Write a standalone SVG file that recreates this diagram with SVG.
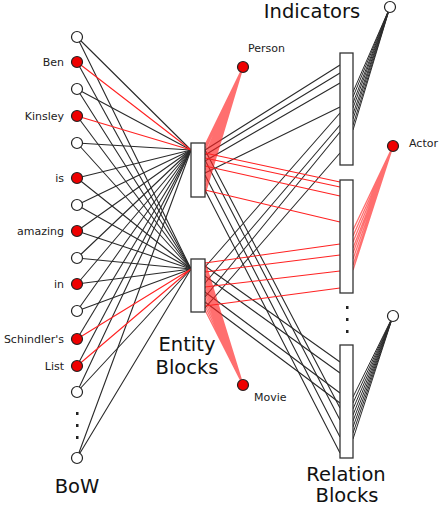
<svg xmlns="http://www.w3.org/2000/svg" width="443" height="507" viewBox="0 0 443 507">
<style>
.k{stroke:#2a2a2a;stroke-width:1.1;fill:none}
.r{stroke:#f22;stroke-width:1.1;fill:none}
.fr{stroke:#f22;stroke-width:1.3;stroke-opacity:0.65;fill:none}
.fk{stroke:#2a2a2a;stroke-width:1;fill:none}
.nw{fill:#fff;stroke:#222;stroke-width:1.2}
.nr{fill:#e00;stroke:#222;stroke-width:1.2}
.blk{fill:#fff;stroke:#333;stroke-width:1.3}
.s{font-family:"DejaVu Sans",sans-serif;font-size:11px;fill:#222}
.b{font-family:"DejaVu Sans",sans-serif;font-size:19.5px;fill:#111}
.dot{fill:#222}
</style>
<rect width="443" height="507" fill="#fff"/>
<g id="connectors">
<g class="k">
<path d="M77 37L191 150M77 37L191 269"/>
<path d="M77 62L191 269"/>
<path d="M77 89L191 150M77 89L191 269"/>
<path d="M77 116L191 269"/>
<path d="M77 143L191 150M77 143L191 269"/>
<path d="M77 178L191 150M77 178L191 269"/>
<path d="M77 205L191 150M77 205L191 269"/>
<path d="M77 231L191 150M77 231L191 269"/>
<path d="M77 258L191 150M77 258L191 269"/>
<path d="M77 284L191 150M77 284L191 269"/>
<path d="M77 311L191 150M77 311L191 269"/>
<path d="M77 339L191 150"/>
<path d="M77 366L191 150"/>
<path d="M77 392L191 150M77 392L191 269"/>
<path d="M77 458L191 150M77 458L191 269"/>
</g>
<g class="r">
<path d="M77 62L191 150M77 116L191 150M77 339L191 269M77 366L191 269"/>
</g>
<g class="k">
<path d="M205 150L340 65M205 155L340 73M205 161L340 83M205 173L340 107"/>
<path d="M205 267L340 113M205 283L340 125M205 297L340 132M205 308L340 153"/>
<path d="M205 266L340 362M205 276L340 373M205 292L340 393M205 302L340 403"/>
<path d="M205 150L340 408M205 160L340 420M205 175L340 437M205 190L340 453"/>
</g>
<g class="r">
<path d="M205 153L340 182M205 158L340 187M205 166L340 196M205 190L340 222"/>
<path d="M205 263L340 244M205 272L340 255M205 287L340 271M205 306L340 288"/>
</g>
<g class="fr">
<path d="M205 145L243 67M205 148L243 67M205 151L243 67M205 155L243 67M205 158L243 67M205 162L243 67M205 166L243 67M205 170L243 67M205 174L243 67M205 178L243 67M205 182L243 67M205 186L243 67M205 190L243 67M205 194L243 67"/>
</g>
<g class="fr">
<path d="M205 262L243 385M205 266L243 385M205 270L243 385M205 274L243 385M205 278L243 385M205 282L243 385M205 286L243 385M205 290L243 385M205 294L243 385M205 298L243 385M205 302L243 385M205 306L243 385M205 310L243 385"/>
</g>
<g class="fk">
<path d="M353 92L390 7M353 97L390 7M353 103L390 7M353 108L390 7M353 114L390 7M353 119L390 7M353 125L390 7M353 130L390 7"/>
<path d="M353 397L393 316M353 403L393 316M353 409L393 316M353 415L393 316M353 421L393 316M353 427L393 316M353 433L393 316M353 439L393 316"/>
</g>
<g class="fr">
<path d="M353 230L393 146M353 236L393 146M353 242L393 146M353 248L393 146M353 253L393 146M353 259L393 146M353 265L393 146M353 270L393 146"/>
</g>
</g>
<g id="bow-nodes">
<circle class="nw" cx="77" cy="37" r="5.5"/>
<circle class="nr" cx="77" cy="62" r="5.5"/>
<circle class="nw" cx="77" cy="89" r="5.5"/>
<circle class="nr" cx="77" cy="116" r="5.5"/>
<circle class="nw" cx="77" cy="143" r="5.5"/>
<circle class="nr" cx="77" cy="178" r="5.5"/>
<circle class="nw" cx="77" cy="205" r="5.5"/>
<circle class="nr" cx="77" cy="231" r="5.5"/>
<circle class="nw" cx="77" cy="258" r="5.5"/>
<circle class="nr" cx="77" cy="284" r="5.5"/>
<circle class="nw" cx="77" cy="311" r="5.5"/>
<circle class="nr" cx="77" cy="339" r="5.5"/>
<circle class="nr" cx="77" cy="366" r="5.5"/>
<circle class="nw" cx="77" cy="392" r="5.5"/>
<circle class="nw" cx="77" cy="458" r="5.5"/>
<rect class="dot" x="76" y="412" width="2.5" height="3"/>
<rect class="dot" x="76" y="424" width="2.5" height="3"/>
<rect class="dot" x="76" y="436" width="2.5" height="3"/>
<g class="s" text-anchor="end">
<text x="64" y="66">Ben</text>
<text x="64" y="120">Kinsley</text>
<text x="64" y="182">is</text>
<text x="64" y="235">amazing</text>
<text x="64" y="288">in</text>
<text x="64" y="343">Schindler's</text>
<text x="64" y="370">List</text>
</g>
<text class="b" x="77" y="493" text-anchor="middle">BoW</text>
</g>
<g id="entity-upper"><rect class="blk" x="191" y="143" width="14" height="54"/></g>
<g id="entity-lower"><rect class="blk" x="191" y="259" width="14" height="53"/></g>
<g id="entity-label"><text class="b" x="187" y="351" text-anchor="middle">Entity</text><text class="b" x="187" y="374" text-anchor="middle">Blocks</text></g>
<g id="person"><circle class="nr" cx="243" cy="67" r="5.5"/><text class="s" x="248" y="52">Person</text></g>
<g id="movie"><circle class="nr" cx="243" cy="385" r="5.5"/><text class="s" x="254" y="401">Movie</text></g>
<g id="relation-top"><rect class="blk" x="340" y="53" width="13" height="112"/></g>
<g id="relation-mid"><rect class="blk" x="340" y="180" width="13" height="113"/></g>
<g id="relation-bottom"><rect class="blk" x="340" y="345" width="13" height="113"/></g>
<rect class="dot" x="346" y="306" width="2.5" height="3"/>
<rect class="dot" x="346" y="318" width="2.5" height="3"/>
<rect class="dot" x="346" y="330" width="2.5" height="3"/>
<g id="indicator-top"><circle class="nw" cx="390" cy="7" r="5.5"/></g>
<g id="actor"><circle class="nr" cx="393" cy="146" r="5.5"/><text class="s" x="409" y="147">Actor</text></g>
<g id="indicator-bottom"><circle class="nw" cx="393" cy="316" r="5.5"/></g>
<g id="labels">
<text class="b" x="312" y="18" text-anchor="middle">Indicators</text>
<text class="b" x="346" y="481" text-anchor="middle">Relation</text>
<text class="b" x="347" y="502" text-anchor="middle">Blocks</text>
</g>
</svg>
